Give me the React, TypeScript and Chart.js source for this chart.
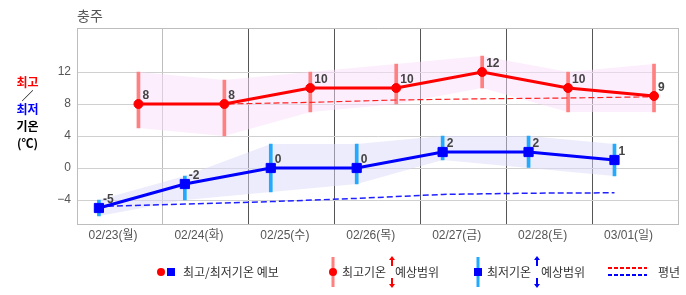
import React, { useEffect, useRef } from "react";
import { Chart, registerables } from "chart.js";
Chart.register(...registerables);

// ---------- data ----------
const categories = ["02/23(월)", "02/24(화)", "02/25(수)", "02/26(목)", "02/27(금)", "02/28(토)", "03/01(일)"];
const maxTemps = [8, 8, 10, 10, 12, 10, 9];
const minTemps = [-5, -2, 0, 0, 2, 2, 1];
const maxRangeHigh = [12, 11, 12, 13, 14, 12, 13];
const maxRangeLow = [5, 4, 7, 8, 10, 7, 7];
const minRangeHigh = [-4, -1, 3, 3, 4, 4, 3];
const minRangeLow = [-6, -4, -3, -2, 1, 0, -1];
const maxNormal = [7.95, 8.0, 8.2, 8.5, 8.65, 8.75, 8.9];
const minNormal = [-4.8, -4.5, -4.2, -3.8, -3.3, -3.15, -3.1];
const yTickLabels = [12, 8, 4, 0, -4];
const yGridValues = [-7, -6, -4, -2, 0, 2, 4, 6, 8, 10, 12, 14, 17.5];
const Y_MIN = -7;
const Y_MAX = 17.5;

// ---------- layout / style constants ----------
const RED_SHIFT = 0.715;
const BLUE_SHIFT = 0.255;
const LATIN = '"Liberation Sans", Arial, "Noto Sans CJK KR", sans-serif';
const KR = '"Noto Sans CJK KR", sans-serif';

const pts = (vals: number[], shift: number) => vals.map((v, i) => ({ x: i + shift, y: v }));
const rng = (lo: number[], hi: number[], shift: number) =>
  lo.map((l, i) => ({ x: i + shift, y: [l, hi[i]] }));

const valueLabels = {
  id: "valueLabels",
  afterDatasetsDraw(chart: any) {
    const ctx = chart.ctx;
    ctx.save();
    ctx.font = `bold 12px ${LATIN}`;
    ctx.fillStyle = "#444";
    ctx.textAlign = "left";
    ctx.textBaseline = "alphabetic";
    chart.data.datasets.forEach((ds: any, di: number) => {
      if (ds.label !== "max" && ds.label !== "min") return;
      const meta = chart.getDatasetMeta(di);
      meta.data.forEach((el: any, i: number) => {
        ctx.fillText(String(ds.data[i].y), el.x + 4, el.y - 5);
      });
    });
    ctx.restore();
  },
};

function arrowV(ctx: CanvasRenderingContext2D, x: number, y1: number, y2: number, color: string) {
  const dir = Math.sign(y2 - y1);
  ctx.strokeStyle = color;
  ctx.fillStyle = color;
  ctx.lineWidth = 2;
  ctx.setLineDash([]);
  ctx.beginPath();
  ctx.moveTo(x, y1);
  ctx.lineTo(x, y2 - dir * 3);
  ctx.stroke();
  ctx.beginPath();
  ctx.moveTo(x, y2);
  ctx.lineTo(x - 3, y2 - dir * 4);
  ctx.lineTo(x + 3, y2 - dir * 4);
  ctx.closePath();
  ctx.fill();
}

const decorations = {
  id: "decorations",
  afterDraw(chart: any) {
    const ctx: CanvasRenderingContext2D = chart.ctx;
    ctx.save();
    // title
    ctx.font = `14px ${KR}`;
    ctx.fillStyle = "#555";
    ctx.textAlign = "left";
    ctx.textBaseline = "middle";
    ctx.fillText("충주", 77, 16);

    // y axis title
    ctx.textAlign = "center";
    ctx.font = `bold 12px ${KR}`;
    ctx.fillStyle = "#ff0000";
    ctx.fillText("최고", 27.5, 82);
    ctx.font = `12px ${KR}`;
    ctx.fillStyle = "#000";
    ctx.fillText("／", 27.5, 96);
    ctx.font = `bold 12px ${KR}`;
    ctx.fillStyle = "#0000ff";
    ctx.fillText("최저", 27.5, 109);
    ctx.fillStyle = "#000";
    ctx.fillText("기온", 27.5, 126);
    ctx.fillText("(℃)", 27.5, 143);

    // legend
    const ly = 272;
    ctx.textAlign = "left";
    ctx.font = `12px ${KR}`;
    // item 1
    ctx.fillStyle = "#ff0000";
    ctx.beginPath();
    ctx.arc(161, ly, 4, 0, Math.PI * 2);
    ctx.fill();
    ctx.fillStyle = "#0000ff";
    ctx.fillRect(167, ly - 4, 8, 8);
    ctx.fillStyle = "#333";
    ctx.fillText("최고/최저기온 예보", 183, ly);

    // item 2
    ctx.fillStyle = "#ff8080";
    ctx.fillRect(331.5, 257, 3, 30);
    ctx.fillStyle = "#ff0000";
    ctx.beginPath();
    ctx.arc(333, ly, 4, 0, Math.PI * 2);
    ctx.fill();
    ctx.fillStyle = "#333";
    ctx.fillText("최고기온", 342, ly);
    ctx.fillText("예상범위", 395, ly);
    arrowV(ctx, 392, 266, 256, "#ff0000");
    arrowV(ctx, 392, 278, 288, "#ff0000");

    // item 3
    ctx.fillStyle = "#22aaff";
    ctx.fillRect(476.5, 257, 3, 30);
    ctx.fillStyle = "#0000ff";
    ctx.fillRect(474, ly - 4, 8, 8);
    ctx.fillStyle = "#333";
    ctx.fillText("최저기온", 487, ly);
    ctx.fillText("예상범위", 541, ly);
    arrowV(ctx, 537, 266, 256, "#0000ff");
    arrowV(ctx, 537, 278, 288, "#0000ff");

    // item 4
    ctx.lineWidth = 2;
    ctx.setLineDash([4, 2]);
    ctx.strokeStyle = "#ff0000";
    ctx.beginPath();
    ctx.moveTo(608, 268);
    ctx.lineTo(647, 268);
    ctx.stroke();
    ctx.strokeStyle = "#0000ff";
    ctx.beginPath();
    ctx.moveTo(608, 275);
    ctx.lineTo(647, 275);
    ctx.stroke();
    ctx.setLineDash([]);
    ctx.fillStyle = "#333";
    ctx.fillText("평년", 658, ly);
    ctx.restore();
  },
};

export default function App() {
  const ref = useRef<HTMLCanvasElement | null>(null);

  useEffect(() => {
    if (!ref.current) return;
    const chart = new Chart(ref.current, {
      type: "line",
      data: {
        datasets: [
          {
            label: "maxBandHi",
            data: pts(maxRangeHigh, RED_SHIFT),
            borderWidth: 0,
            borderColor: "rgba(0,0,0,0)",
            pointRadius: 0,
            fill: "+1",
            backgroundColor: "rgba(249,221,249,0.5)",
            order: 10,
          },
          {
            label: "maxBandLo",
            data: pts(maxRangeLow, RED_SHIFT),
            borderWidth: 0,
            borderColor: "rgba(0,0,0,0)",
            pointRadius: 0,
            fill: false,
            order: 10,
          },
          {
            label: "minBandHi",
            data: pts(minRangeHigh, BLUE_SHIFT),
            borderWidth: 0,
            borderColor: "rgba(0,0,0,0)",
            pointRadius: 0,
            fill: "+1",
            backgroundColor: "rgba(217,217,249,0.5)",
            order: 10,
          },
          {
            label: "minBandLo",
            data: pts(minRangeLow, BLUE_SHIFT),
            borderWidth: 0,
            borderColor: "rgba(0,0,0,0)",
            pointRadius: 0,
            fill: false,
            order: 10,
          },
          {
            type: "bar",
            label: "maxRange",
            data: rng(maxRangeLow, maxRangeHigh, RED_SHIFT) as any,
            backgroundColor: "#ff8080",
            barThickness: 3,
            grouped: false,
            borderWidth: 0,
            order: 8,
          } as any,
          {
            type: "bar",
            label: "minRange",
            data: rng(minRangeLow, minRangeHigh, BLUE_SHIFT) as any,
            backgroundColor: "#22aaff",
            barThickness: 3,
            grouped: false,
            borderWidth: 0,
            order: 8,
          } as any,
          {
            label: "maxNormal",
            data: pts(maxNormal, RED_SHIFT),
            borderColor: "#ff2020",
            borderWidth: 1.2,
            borderDash: [6, 3],
            pointRadius: 0,
            fill: false,
            order: 6,
          },
          {
            label: "minNormal",
            data: pts(minNormal, BLUE_SHIFT),
            borderColor: "#2020ff",
            borderWidth: 1.5,
            borderDash: [6, 3],
            pointRadius: 0,
            fill: false,
            order: 6,
          },
          {
            label: "max",
            data: pts(maxTemps, RED_SHIFT),
            borderColor: "#ff0000",
            backgroundColor: "#ff0000",
            borderWidth: 3,
            pointStyle: "circle",
            pointRadius: 4.5,
            pointBorderWidth: 1,
            pointBackgroundColor: "#ff0000",
            pointBorderColor: "#ff0000",
            fill: false,
            order: 1,
          },
          {
            label: "min",
            data: pts(minTemps, BLUE_SHIFT),
            borderColor: "#0000ff",
            backgroundColor: "#0000ff",
            borderWidth: 3,
            pointStyle: "rect",
            pointRadius: 6.5,
            pointBorderWidth: 1,
            pointBackgroundColor: "#0000ff",
            pointBorderColor: "#0000ff",
            fill: false,
            order: 1,
          },
        ] as any,
      },
      options: {
        responsive: false,
        animation: false,
        devicePixelRatio: 1,
        layout: { padding: { top: 28, right: 1, left: 0, bottom: 0 } },
        plugins: {
          legend: { display: false },
          tooltip: { enabled: false },
          title: { display: false },
        },
        scales: {
          x: {
            type: "linear",
            min: 0,
            max: 7,
            offset: false,
            afterBuildTicks: (s: any) => {
              s.ticks = [0, 1, 2, 3, 4, 5, 6, 7].map((v) => ({ value: v }));
            },
            afterFit: (s: any) => {
              s.height = 71;
            },
            grid: {
              offset: false,
              drawTicks: false,
              lineWidth: 1,
              color: (c: any) => {
                const v = c.tick ? c.tick.value : 0;
                if (v === 0 || v === 7 || v === 1) return "#bdbdbd";
                return "#555";
              },
            },
            border: { display: true, color: "#bdbdbd" },
            ticks: {
              autoSkip: false,
              maxRotation: 0,
              minRotation: 0,
              labelOffset: 36,
              padding: 4,
              color: "#555",
              font: { size: 12, family: LATIN },
              callback: (v: any) => categories[v as number] ?? "",
            },
          },
          y: {
            type: "linear",
            min: Y_MIN,
            max: Y_MAX,
            afterBuildTicks: (s: any) => {
              s.ticks = yGridValues.map((v) => ({ value: v }));
            },
            afterFit: (s: any) => {
              s.width = 77;
            },
            grid: {
              drawTicks: false,
              lineWidth: 1,
              color: (c: any) => {
                const v = c.tick ? c.tick.value : 0;
                if (v === Y_MIN || v === Y_MAX) return "#bdbdbd";
                return "#d0d0d0";
              },
            },
            border: { display: true, color: "#bdbdbd" },
            ticks: {
              padding: 6,
              color: "#555",
              font: { size: 12, family: LATIN },
              callback: (v: any) =>
                yTickLabels.includes(v as number) ? ((v as number) < 0 ? "−" + -v : String(v)) : "",
            },
          },
        },
      },
      plugins: [valueLabels, decorations],
    });
    return () => chart.destroy();
  }, []);

  return (
    <div style={{ position: "absolute", left: 0, top: 0, width: 686, height: 295, background: "#fff" }}>
      <canvas ref={ref} width={686} height={295} style={{ display: "block" }} />
    </div>
  );
}
